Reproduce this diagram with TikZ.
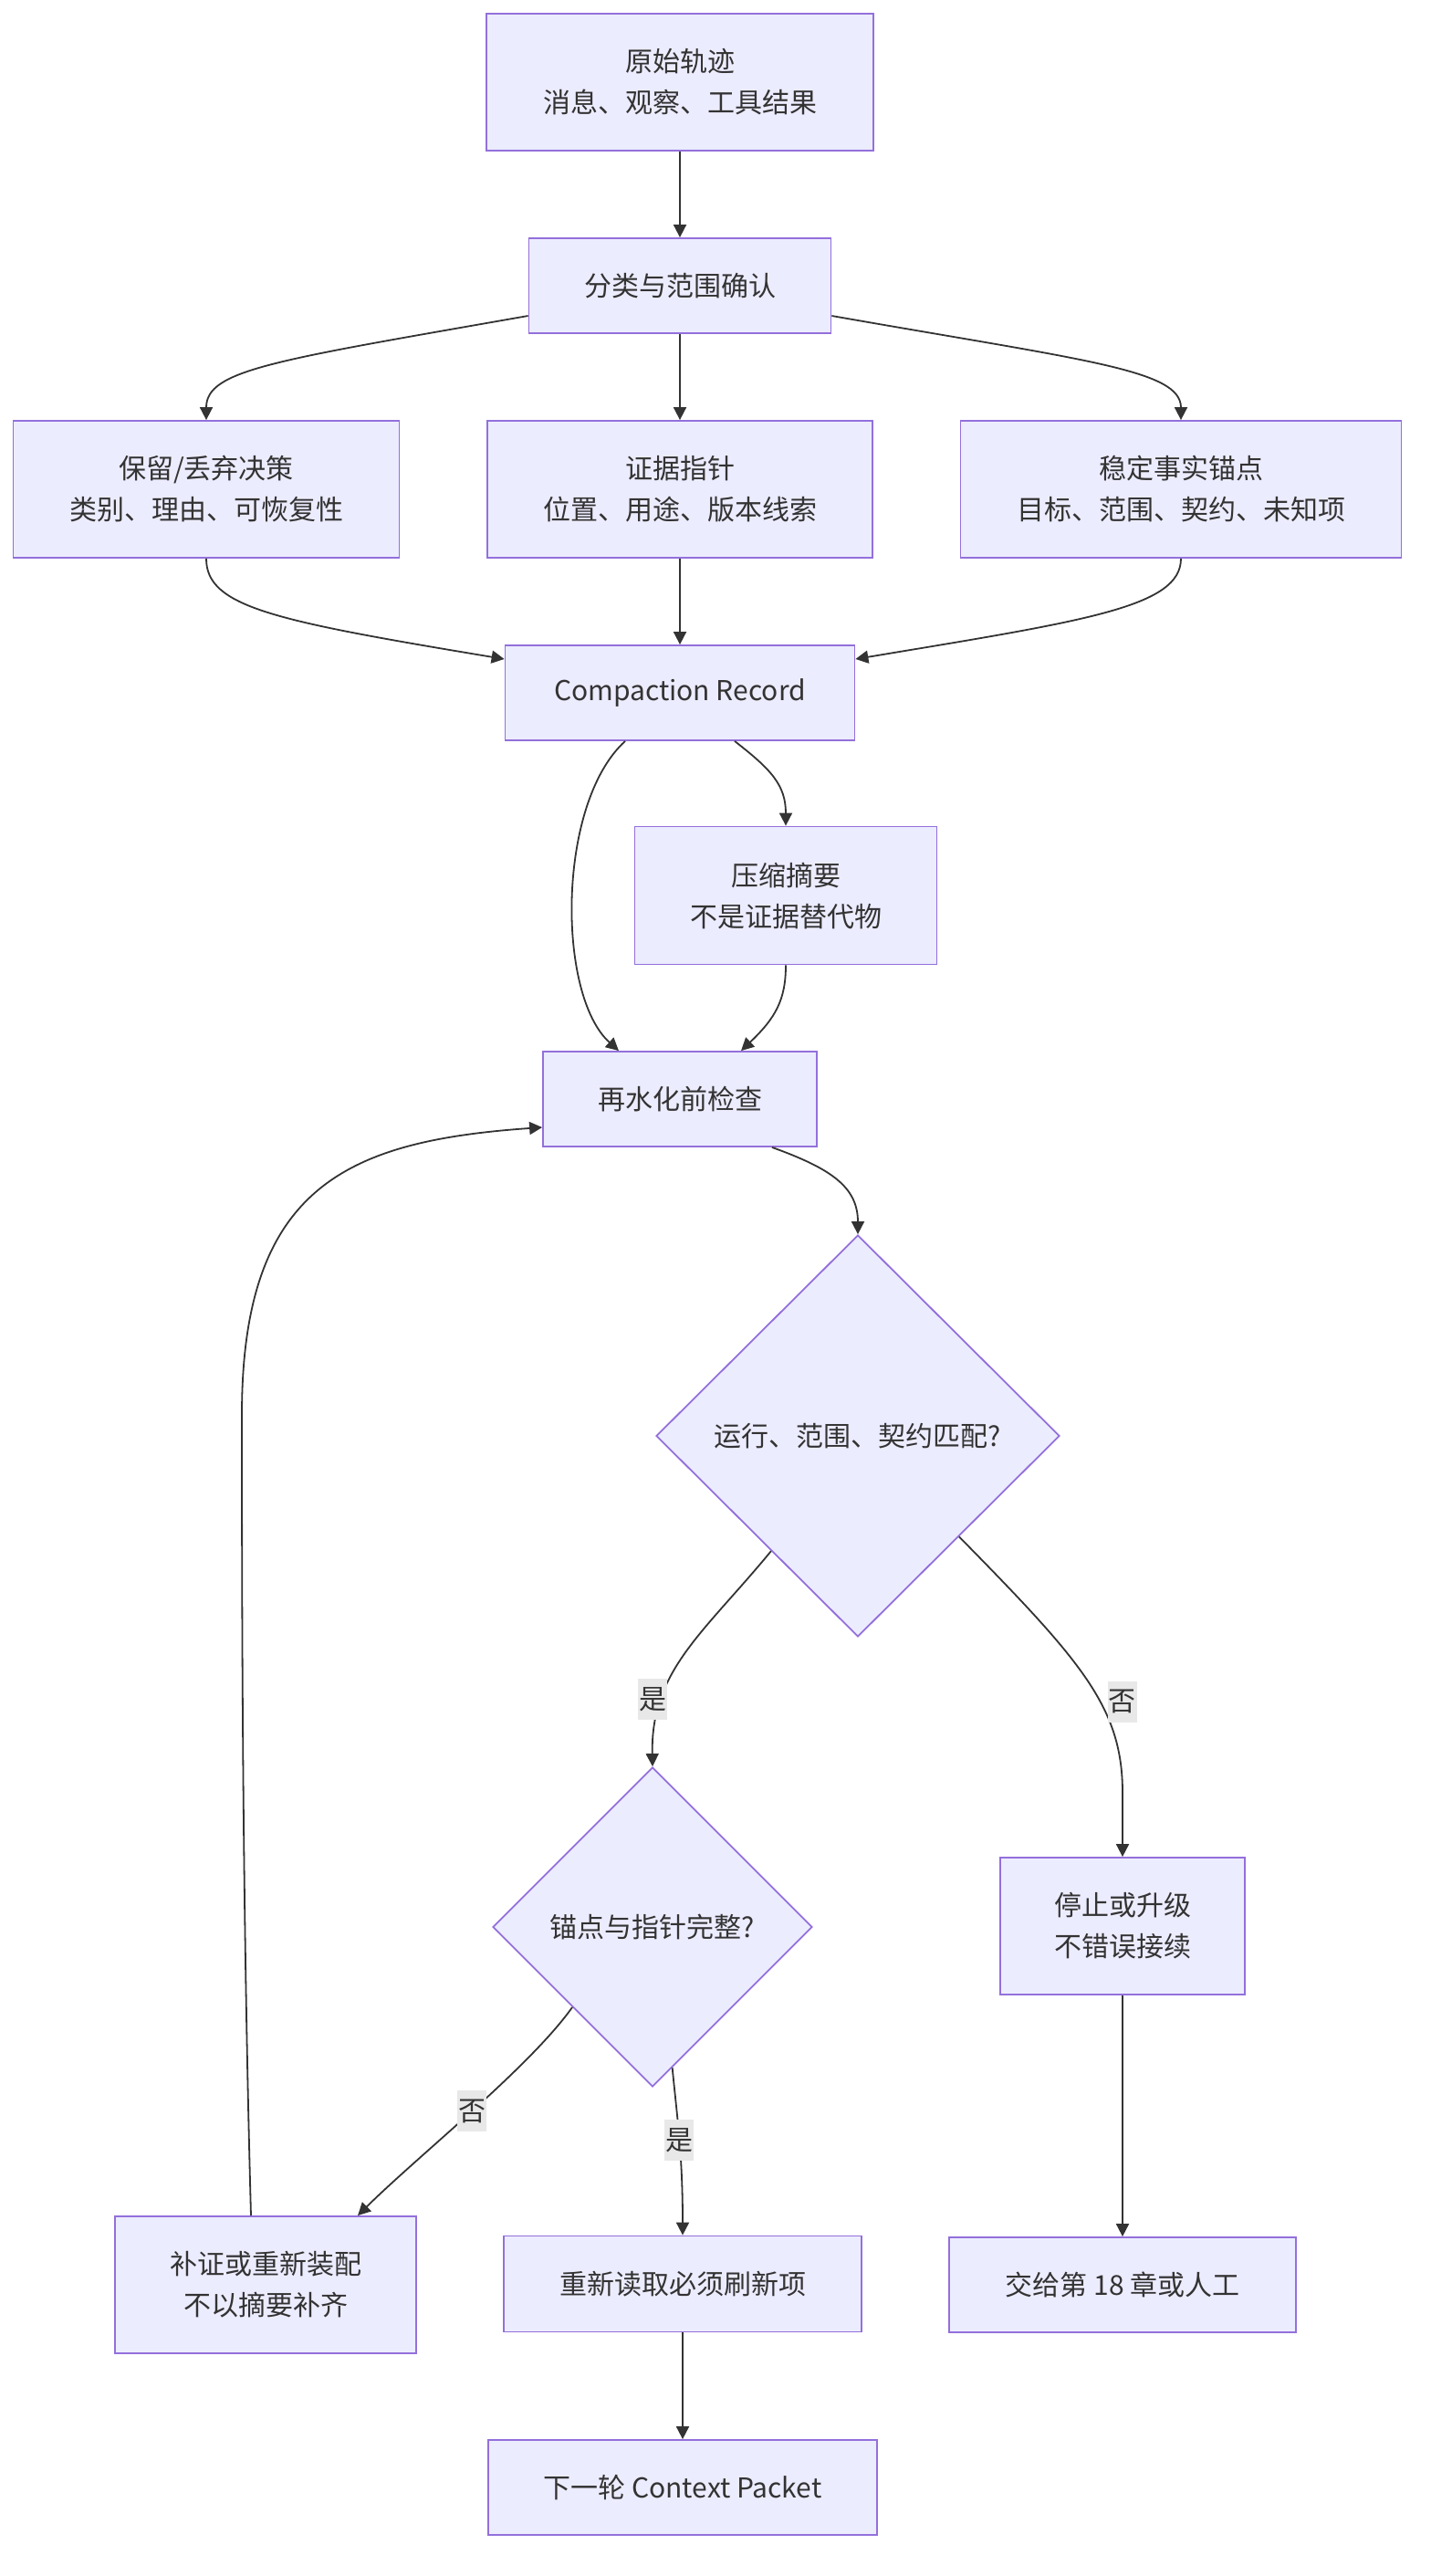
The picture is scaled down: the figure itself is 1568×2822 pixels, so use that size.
\documentclass[tikz,border=0pt]{standalone}
\usepackage{fontspec}
\setmainfont{Noto Sans CJK SC}
\usetikzlibrary{arrows.meta,shapes.geometric}
\definecolor{nodefill}{HTML}{ECECFF}
\definecolor{nodeline}{HTML}{9370DB}
\definecolor{edgeline}{HTML}{333333}
\definecolor{labelfill}{HTML}{E8E8E8}

\begin{document}
\begin{tikzpicture}[x=1pt, y=-1pt,
    box/.style={draw=nodeline, fill=nodefill, line width=1.8pt, text=edgeline,
        align=center, inner sep=0pt, font=\fontsize{30}{45}\selectfont},
    choice/.style={box, diamond, aspect=1},
    flow/.style={draw=edgeline, line width=1.8pt, -{Triangle[length=14pt,width=14pt]}},
    lbl/.style={fill=labelfill, text=edgeline, inner xsep=1pt, inner ysep=0pt,
        minimum height=45pt, font=\fontsize{30}{36}\selectfont}]
    \useasboundingbox (0,0) rectangle (1568,2822);

    \node[box, minimum width=424pt, minimum height=150pt] at (745, 90)(trace) {原始轨迹\\消息、观察、工具结果};
    \node[box, minimum width=331pt, minimum height=104pt] at (745, 313)(triage) {分类与范围确认};
    \node[box, minimum width=423pt, minimum height=150pt] at (226, 536)(keep) {保留/丢弃决策\\类别、理由、可恢复性};
    \node[box, minimum width=422pt, minimum height=150pt] at (745, 536)(pointers) {证据指针\\位置、用途、版本线索};
    \node[box, minimum width=483pt, minimum height=150pt] at (1294, 536)(facts) {稳定事实锚点\\目标、范围、契约、未知项};
    \node[box, minimum width=383pt, minimum height=104pt] at (745, 759)(record) {Compaction Record};
    \node[box, minimum width=331pt, minimum height=151pt] at (861, 981)(summary) {压缩摘要\\不是证据替代物};
    \node[box, minimum width=300pt, minimum height=104pt] at (745, 1204)(precheck) {再水化前检查};
    \node[choice, minimum width=442pt, minimum height=440pt] at (940, 1573)(match) {运行、范围、契约匹配?};
    \node[choice, minimum width=350pt, minimum height=350pt] at (715, 2111)(complete) {锚点与指针完整?};
    \node[box, minimum width=268pt, minimum height=150pt] at (1230, 2110)(stop) {停止或升级\\不错误接续};
    \node[box, minimum width=330pt, minimum height=150pt] at (291, 2503)(repair) {补证或重新装配\\不以摘要补齐};
    \node[box, minimum width=392pt, minimum height=105pt] at (748, 2502)(reread) {重新读取必须刷新项};
    \node[box, minimum width=380pt, minimum height=104pt] at (1230, 2503)(handoff) {交给第 18 章或人工};
    \node[box, minimum width=426pt, minimum height=104pt] at (748, 2725)(nextpkt) {下一轮 Context Packet};

    % top part
    \draw[flow] (trace.south) -- (triage.north);
    \draw[flow] ([yshift=-33pt]triage.west) .. controls (300, 395) and (226, 405) .. (keep.north);
    \draw[flow] (triage.south) -- (pointers.north);
    \draw[flow] ([yshift=-33pt]triage.east) .. controls (1190, 395) and (1294, 405) .. (facts.north);
    \draw[flow] (keep.south) .. controls (226, 665) and (300, 680) .. ([yshift=37pt]record.west);
    \draw[flow] (pointers.south) -- (record.north);
    \draw[flow] (facts.south) .. controls (1294, 665) and (1190, 680) .. ([yshift=37pt]record.east);
    \draw[flow] ([xshift=-60pt]record.south) .. controls (610, 880) and (610, 1090) .. ([xshift=-67pt]precheck.north);
    \draw[flow] ([xshift=60pt]record.south) .. controls (845, 843) and (861, 860) .. (summary.north);
    \draw[flow] (summary.south) .. controls (861, 1095) and (850, 1115) .. ([xshift=67pt]precheck.north);
    \draw[flow] ([xshift=101pt]precheck.south) .. controls (910, 1280) and (940, 1300) .. (match.north);

    % decisions
    \draw[flow] (match.233) .. controls (770, 1790) and (713, 1830) .. node[lbl, pos=0.73, xshift=-10pt] {是} (complete.north);
    \draw[flow] (match.south east) .. controls (1185, 1820) and (1230, 1870) .. node[lbl, pos=0.6, xshift=24pt] {否} ([yshift=70pt]stop.north) -- (stop.north);
    \draw[flow] (complete.south west) .. controls (580, 2265) and (460, 2360) .. node[lbl, pos=0.5] {否} ([xshift=101pt]repair.north);
    \draw[flow] (complete.278) .. controls (742, 2320) and (748, 2360) .. node[lbl, pos=0.5] {是} (reread.north);
    \draw[flow] (reread.south) -- (nextpkt.north);
    \draw[flow] (stop.south) -- (handoff.north);
    \draw[flow] ([xshift=-16pt]repair.north) .. controls (266, 2100) and (265, 1800) .. (265, 1550)
        .. controls (265, 1300) and (380, 1250) .. ([yshift=-31pt]precheck.west);

\end{tikzpicture}
\end{document}
